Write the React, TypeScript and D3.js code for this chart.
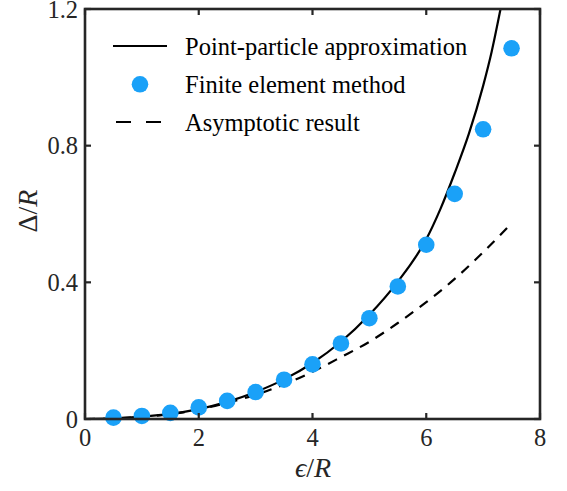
import React from "react";
import * as d3 from "d3";

// Finite element method points
const xFem = [0.5, 1, 1.5, 2, 2.5, 3, 3.5, 4, 4.5, 5, 5.5, 6, 6.5, 7, 7.5];
const yFem = [0.004, 0.009, 0.018, 0.034, 0.053, 0.079, 0.115, 0.160, 0.221, 0.295, 0.388, 0.510, 0.659, 0.848, 1.085];

// Point-particle approximation (solid)
const xPP = [0, 0.5, 1, 1.5, 2, 2.5, 3, 3.5, 4, 4.5, 5, 5.5, 6, 6.25, 6.5, 6.75, 7, 7.15, 7.3, 7.4];
const yPP = [0, 0.002, 0.007, 0.015, 0.029, 0.05, 0.079, 0.116, 0.164, 0.226, 0.305, 0.402, 0.526, 0.615, 0.72, 0.835, 0.975, 1.075, 1.195, 1.28];

// Asymptotic result (dashed)
const xAs = [0, 0.5, 1, 1.5, 2, 2.5, 3, 3.5, 4, 4.5, 5, 5.5, 6, 6.5, 7, 7.5];
const yAs = [0, 0.0015, 0.006, 0.014, 0.028, 0.047, 0.071, 0.101, 0.138, 0.181, 0.226, 0.281, 0.342, 0.41, 0.488, 0.573];

const xTicks = [0, 2, 4, 6, 8];
const yTicks = [0, 0.4, 0.8, 1.2];
const yTickLabels = ["0", "0.4", "0.8", "1.2"];
const legendLabels = ["Point-particle approximation", "Finite element method", "Asymptotic result"];

const W = 567;
const H = 491;
const L = 85, R = 540, T = 9, B = 419;
const FONT = "Liberation Serif";
const AX = "#262626";
const BLUE = "#1aa1f8";

export default function App() {
  const x = d3.scaleLinear().domain([0, 8]).range([L, R]);
  const y = d3.scaleLinear().domain([0, 1.2]).range([B, T]);
  const line = d3
    .line<[number, number]>()
    .x((d) => x(d[0]))
    .y((d) => y(d[1]))
    .curve(d3.curveMonotoneX);
  const ppPath = line(xPP.map((v, i) => [v, yPP[i]]) as [number, number][]) || "";
  const asPath = line(xAs.map((v, i) => [v, yAs[i]]) as [number, number][]) || "";
  const tickLen = 6;

  return (
    <svg
      width={W}
      height={H}
      viewBox={`0 0 ${W} ${H}`}
      style={{ position: "absolute", left: 0, top: 0, background: "#fff" }}
    >
      <defs>
        <clipPath id="plotClip">
          <rect x={L} y={T} width={R - L} height={B - T} />
        </clipPath>
      </defs>
      <rect x={0} y={0} width={W} height={H} fill="#fff" />

      {/* curves */}
      <g clipPath="url(#plotClip)">
        <path d={asPath} fill="none" stroke="#000" strokeWidth={2.2} strokeDasharray="10 8" />
        <path d={ppPath} fill="none" stroke="#000" strokeWidth={2.2} />
      </g>
      {xFem.map((v, i) => (
        <circle key={i} cx={x(v)} cy={y(yFem[i])} r={8.3} fill={BLUE} />
      ))}

      {/* ticks */}
      {xTicks.map((t) => (
        <g key={"xt" + t}>
          <line x1={x(t)} x2={x(t)} y1={B} y2={B - tickLen} stroke={AX} strokeWidth={2.2} />
          <line x1={x(t)} x2={x(t)} y1={T} y2={T + tickLen} stroke={AX} strokeWidth={2.2} />
          <text x={x(t)} y={446} textAnchor="middle" fontFamily={FONT} fontSize={24.5} fill={AX}>
            {t}
          </text>
        </g>
      ))}
      {yTicks.map((t, i) => (
        <g key={"yt" + t}>
          <line x1={L} x2={L + tickLen} y1={y(t)} y2={y(t)} stroke={AX} strokeWidth={2.2} />
          <line x1={R} x2={R - tickLen} y1={y(t)} y2={y(t)} stroke={AX} strokeWidth={2.2} />
          <text x={78} y={y(t) + 8.6} textAnchor="end" fontFamily={FONT} fontSize={24.5} fill={AX}>
            {yTickLabels[i]}
          </text>
        </g>
      ))}

      {/* frame */}
      <rect x={L} y={T} width={R - L} height={B - T} fill="none" stroke={AX} strokeWidth={2.6} />

      {/* axis labels */}
      <text x={313} y={477} textAnchor="middle" fontFamily={FONT} fontSize={28} fill={AX}>
        <tspan fontStyle="italic">ϵ</tspan>
        <tspan>/</tspan>
        <tspan fontStyle="italic">R</tspan>
      </text>
      <text transform="translate(37,211) rotate(-90)" textAnchor="middle" fontFamily={FONT} fontSize={28} fill={AX}>
        <tspan>Δ</tspan>
        <tspan>/</tspan>
        <tspan fontStyle="italic">R</tspan>
      </text>

      {/* legend */}
      <line x1={113} x2={167} y1={46} y2={46} stroke="#000" strokeWidth={2.2} />
      <text x={185} y={54.5} fontFamily={FONT} fontSize={24.5} fill="#000">{legendLabels[0]}</text>
      <circle cx={140} cy={84.3} r={8.3} fill={BLUE} />
      <text x={185} y={92.5} fontFamily={FONT} fontSize={24.5} fill="#000">{legendLabels[1]}</text>
      <line x1={116} x2={161} y1={122} y2={122} stroke="#000" strokeWidth={2.2} strokeDasharray="15 15" />
      <text x={185} y={130.5} fontFamily={FONT} fontSize={24.5} fill="#000">{legendLabels[2]}</text>
    </svg>
  );
}
